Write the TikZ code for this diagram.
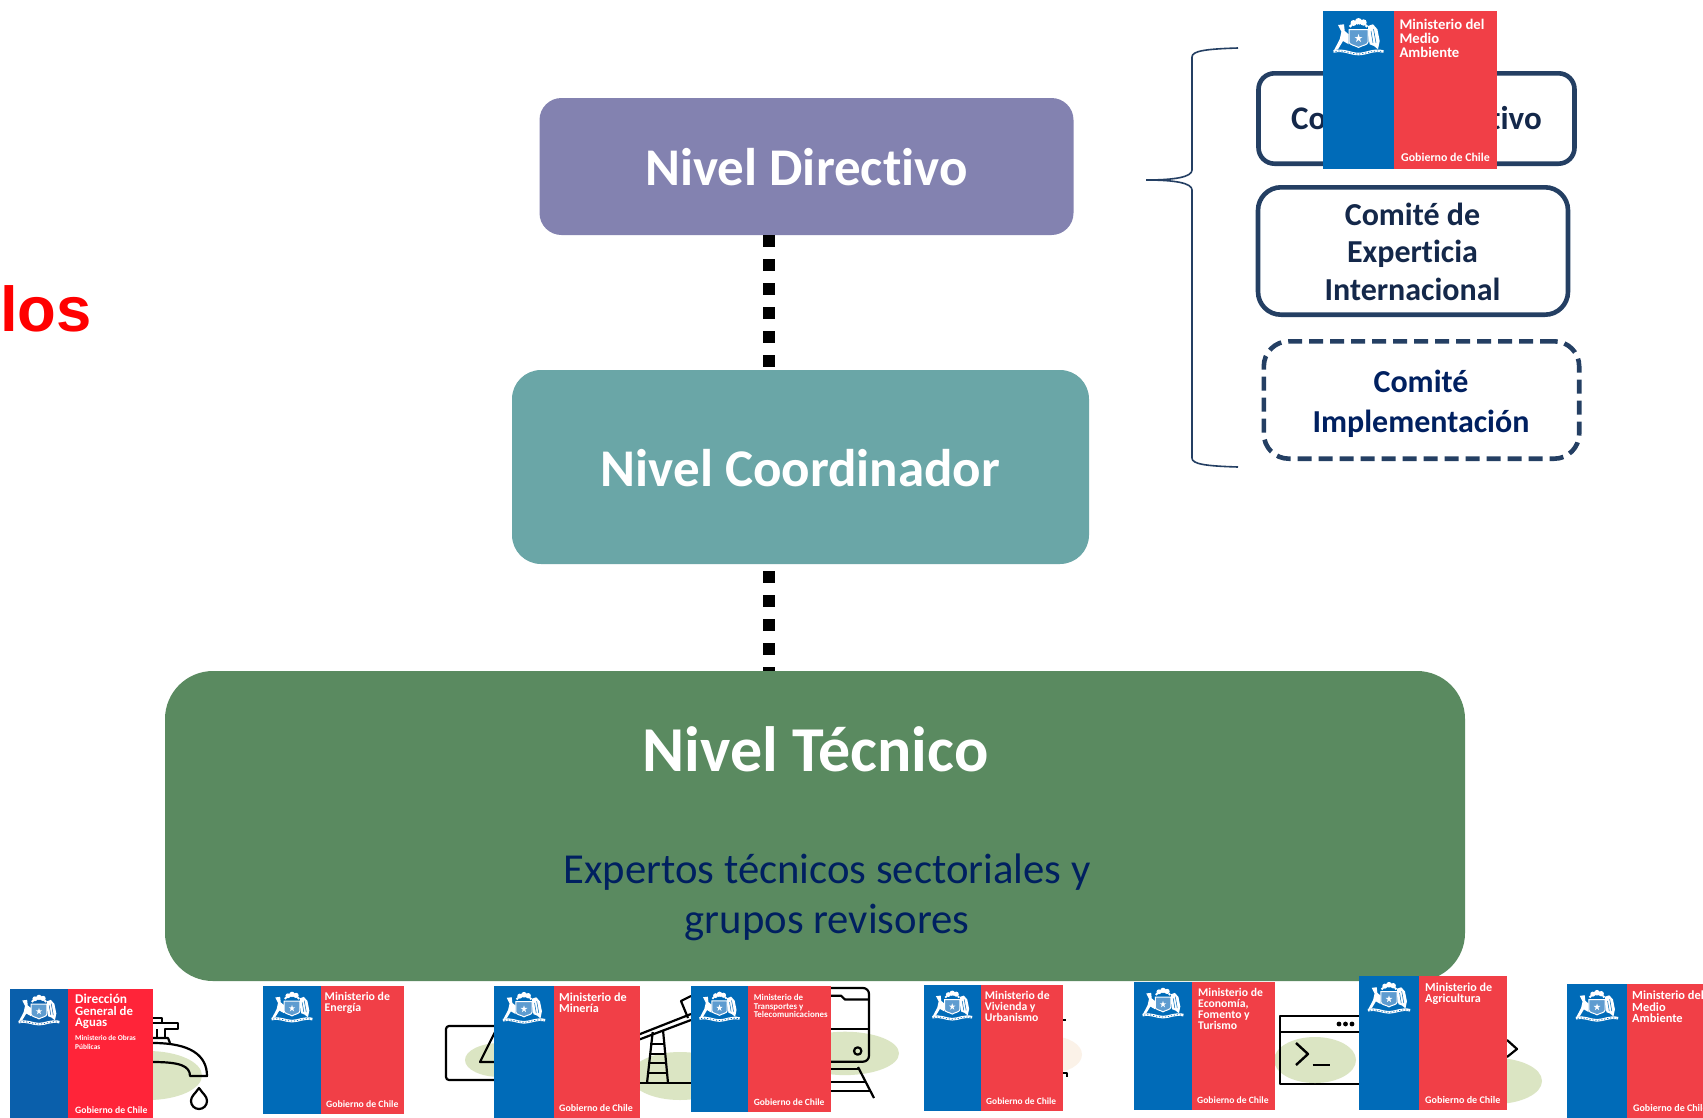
\documentclass[tikz,border=0pt]{standalone}
\usepackage{fontspec}
\setmainfont[RawFeature={-liga;-clig;-dlig}]{Carlito}
\newfontfamily\arialf{Liberation Sans}
\definecolor{dirc}{HTML}{8382B0}
\definecolor{cooc}{HTML}{6AA6A7}
\definecolor{tecc}{HTML}{5A8A60}
\definecolor{navy}{HTML}{002060}
\definecolor{edgec}{HTML}{243F63}
\definecolor{inkc}{HTML}{14284A}
\definecolor{blueg}{HTML}{006BB8}
\definecolor{redg}{HTML}{F13F47}
\definecolor{redd}{HTML}{FF2439}
\definecolor{blued}{HTML}{0A5FAB}
\definecolor{leaf}{HTML}{DBE5C3}
\definecolor{peach}{HTML}{FBF2E8}
\definecolor{shieldc}{HTML}{5E9CD0}
\tikzset{
  lvl/.style={inner sep=0pt,text=white,font=\bfseries},
  cbox/.style={draw=edgec,line width=4.6pt,fill=white,inner sep=0pt},
  ctext/.style={font=\bfseries\fontsize{32}{37.5}\selectfont,align=center,anchor=base,inner sep=0pt,text=inkc},
  dots/.style={line width=12.6pt,dash pattern=on 12pt off 12pt},
  icon/.style={draw=black,line width=2.2pt,line join=round},
  ltext/.style={anchor=base west,inner sep=0pt,text=white,font=\bfseries},
}
% name, x0, x1, split, y0, y1, blue, red
\newcommand{\govlogo}[8]{%
  \fill[#7] (#2,#5) rectangle (#4,#6);
  \fill[#8] (#4,#5) rectangle (#3,#6);
  \pgfmathsetmacro{\ccx}{(#2+#4)/2}
  \pgfmathsetmacro{\ccs}{(#4-#2)/71}
  \pgfmathsetmacro{\cct}{#5+7*\ccs}
  \begin{scope}[shift={(\ccx,\cct)},scale=\ccs]
    % plume
    \fill[white] (0,3.5) circle (3.5) (-5,5) circle (3) (5,4.5) circle (3.2) (-8,8) circle (1.6) (8,8) circle (1.6);
    \fill[#7] (0,7.5) circle (1.4);
    % huemul
    \fill[white] (-20.5,7)--(-14.5,6.3)--(-13.8,13)--(-9.8,16.3)--(-9.8,26.3)--(-15.5,23)--(-20.5,31.3)--(-24.5,32.3)--(-18.8,21.3)--(-17.1,13.7)--cycle;
    % condor
    \fill[white] (9.5,8)--(14.5,6.3)--(18.9,11.3)--(21.2,23)--(19.5,31.3)--(15.5,28)--(11.2,26.3)--(9.5,16.3)--cycle;
    \draw[#7,line width=.5pt] (15,11) -- (17.5,25) (12.5,13) -- (14.5,25);
    % shield
    \draw[white,line width=1pt,fill=shieldc] (-9.5,11.5)--(9.5,11.5)--(9.5,24)..controls (9.5,27) and (3,27.5) .. (0,29.5) .. controls (-3,27.5) and (-9.5,27) .. (-9.5,24)--cycle;
    \fill[white] (0,16) -- (1,19) -- (4,19) -- (1.5,20.8) -- (2.5,24) -- (0,22) -- (-2.5,24) -- (-1.5,20.8) -- (-4,19) -- (-1,19) -- cycle;
    % ribbon
    \draw[white,line width=2.6pt] (-25,33.5) .. controls (-15,31) and (-8,36) .. (0,36) .. controls (8,36) and (15,31) .. (25,33.5);
    \draw[#7,line width=.7pt,dash pattern=on 1.2pt off 1.8pt] (-23,33.5) .. controls (-15,31.5) and (-8,36) .. (0,36) .. controls (8,36) and (15,31.5) .. (23,33.5);
  \end{scope}
}
% name, x, baseline, size, text
\newcommand{\ltx}[5]{\node[ltext] (#1) at (#2,#3) {\fontsize{#4}{#4}\selectfont #5};}
\begin{document}
\begin{tikzpicture}[x=1pt,y=-1pt]
\useasboundingbox (0,0) rectangle (1703,1117);
\clip (0,0) rectangle (1703,1117);
\fill[white] (0,0) rectangle (1703,1117);

\node[anchor=base west,inner sep=0pt,text=red] (los) at (0,331) {\arialf\bfseries\fontsize{63.4}{64}\selectfont los};

% levels
\node[lvl,fill=dirc,rounded corners=22pt,minimum width=534pt,minimum height=137pt,
  text height=38.5pt,text depth=0pt,font=\bfseries\fontsize{53}{53}\selectfont] (dir) at (806.5,166.5) {Nivel Directivo};
\node[lvl,fill=cooc,rounded corners=29pt,minimum width=577pt,minimum height=194pt,
  text height=38pt,text depth=0pt,font=\bfseries\fontsize{53}{53}\selectfont] (coo) at (800.5,467) {Nivel Coordinador};
\node[lvl,fill=tecc,rounded corners=48pt,minimum width=1300pt,minimum height=310pt] (tec) at (815,826) {};
\node[anchor=base,inner sep=0pt,text=white,font=\bfseries\fontsize{64}{64}\selectfont] (tect) at (815.5,771) {Nivel Técnico};
\node[anchor=base,inner sep=0pt,text=navy,align=center,font=\fontsize{42.7}{50}\selectfont] (tecs) at (827,933) {Expertos técnicos sectoriales y\\grupos revisores};

\coordinate (cx) at (769,0);
\draw[dots] (dir.south -| cx) -- (coo.north -| cx);
\draw[dots,dash phase=17pt] (coo.south -| cx) -- (tec.north -| cx);

% committees
\node[cbox,rounded corners=16pt,minimum width=316pt,minimum height=90.4pt,text=inkc,
  text height=22pt,text depth=0pt,font=\bfseries\fontsize{33}{33}\selectfont] (c1) at (1416.5,118.5) {Comité\hspace{22pt} Directivo};
\node[cbox,rounded corners=23pt,minimum width=310pt,minimum height=127.4pt] (c2) at (1413,251) {};
\node[ctext] (c2t) at (1412.5,300) {Comité de\\Experticia\\Internacional};
\node[cbox,rounded corners=25pt,dash pattern=on 14pt off 7pt,minimum width=315.4pt,minimum height=117.4pt] (c3) at (1421.5,400) {};
\node[ctext,text=navy,font=\bfseries\fontsize{32}{40}\selectfont] (c3t) at (1421,432) {Comité\\Implementación};

% brace
\coordinate (bt) at (1238,48);
\coordinate (bm) at (1146,180);
\coordinate (bb) at (1238,467);
\draw[edgec,line width=1.6pt] (bt) .. controls (1205,49) and (1192,51) .. (1192,57)
  -- (1192,170) .. controls (1192,177) and (1175,180) .. (bm)
  .. controls (1175,180) and (1192,183) .. (1192,190)
  -- (1192,458) .. controls (1192,464) and (1205,466) .. (bb);

% icons behind the logos
\fill[leaf] (148,1075.5) ellipse (54 and 24.5);
\draw[icon] (153,1043) .. controls (190,1043) and (207,1055) .. (207,1076) -- (190,1076) .. controls (190,1066) and (180,1062) .. (153,1062);
\draw[icon] (153,1023) -- (178,1023) -- (178,1029) -- (165,1029) -- (165,1038);
\draw[icon] (153,1018) -- (162,1018) -- (162,1023);
\draw[icon] (157,1029) -- (157,1038);
\draw[icon] (153,1038) -- (168,1038) -- (170,1043);
\draw[icon] (199,1088) .. controls (203,1094) and (207,1096) .. (207,1101) arc (0:180:8) .. controls (191,1096) and (195,1094) .. (199,1088) -- cycle;

\fill[leaf] (500,1060) ellipse (35 and 17);
\draw[icon,rounded corners=3pt] (500,1026) -- (446,1026) -- (446,1080) -- (500,1080);
\draw[icon] (496,1030) -- (480,1062) -- (500,1062);

\fill[leaf] (680,1076) ellipse (50 and 24);
\draw[icon] (630,1038) -- (691,1014);
\draw[icon] (630,1043) -- (691,1020);
\draw[icon] (691,996) -- (681,1001) -- (688,1018);
\draw[icon] (630,1083) -- (691,1083);
\draw[icon] (647,1083) -- (652.7,1032) (668,1083) -- (663,1030);
\draw[icon] (650,1044) -- (665,1044) (649,1054) -- (666,1054) (648,1063) -- (667,1063) (647,1073) -- (668,1073);

\fill[leaf] (845,1053.4) ellipse (54 and 21.7);
\draw[icon,rounded corners=6pt] (820,988) -- (869,988) -- (869,1061.7) -- (820,1061.7);
\draw[icon] (825,1029.3) -- (868,1029.3);
\draw[icon] (825,995.7) -- (841,995.7) -- (845,999.5) -- (868,999.5);
\draw[icon] (857.7,1051) circle (3.7);
\draw[icon] (858,1067) -- (874,1098);
\draw[icon] (825,1069.3) -- (860,1069.3) (825,1081.7) -- (866,1081.7) (825,1091) -- (870,1091);

\fill[peach] (1050,1054.5) ellipse (32 and 18.5);
\draw[icon] (1060,1020) -- (1066,1020);
\draw[icon] (1060,1073) -- (1067,1073) -- (1067,1077);

\draw[icon,fill=white] (1280,1016) rectangle (1370,1084);
\draw[icon] (1280,1032) -- (1370,1032);
\fill[leaf] (1315,1060) ellipse (41 and 23);
\draw[icon] (1280,1034) -- (1280,1084);
\fill (1339,1024) circle (2.4) (1345.5,1024) circle (2.4) (1352,1024) circle (2.4);
\draw[icon,line width=2.4pt] (1296,1043) -- (1308,1054) -- (1296,1065);
\draw[icon,line width=2.4pt] (1312.5,1065) -- (1330,1065);

\fill[leaf] (1495,1081) ellipse (47 and 23);
\draw[icon] (1507,1040) -- (1517,1049) -- (1507,1057);

% logos
\govlogo{lg1}{10}{153}{68}{989}{1125}{blued}{redd}
\ltx{lg1a}{75}{1003.3}{13.4}{Dirección}
\ltx{lg1b}{75}{1015}{12.8}{General de}
\ltx{lg1c}{75}{1026.7}{12.8}{Aguas}
\ltx{lg1d}{75}{1040}{7.4}{Ministerio de Obras}
\ltx{lg1e}{75}{1049}{7.4}{Públicas}
\ltx{lg1f}{75}{1113}{9.7}{Gobierno de Chile}

\govlogo{lg2}{263}{404}{321}{986}{1114}{blueg}{redg}
\ltx{lg2a}{324.5}{1000.7}{11.8}{Ministerio de}
\ltx{lg2b}{324.5}{1011.7}{11.8}{Energía}
\ltx{lg2f}{326}{1107.7}{9.7}{Gobierno de Chile}

\govlogo{lg3}{494}{640}{554}{986}{1125}{blueg}{redg}
\ltx{lg3a}{559}{1001}{12.2}{Ministerio de}
\ltx{lg3b}{559}{1012}{12.2}{Minería}
\ltx{lg3f}{559}{1111.7}{9.9}{Gobierno de Chile}

\govlogo{lg4}{691}{831}{748}{986}{1112}{blueg}{redg}
\ltx{lg4a}{753.6}{1000.7}{8.9}{Ministerio de}
\ltx{lg4b}{753.6}{1009}{8.9}{Transportes y}
\ltx{lg4c}{753.6}{1017}{8.9}{Telecomunicaciones}
\ltx{lg4f}{753.6}{1105.7}{9.5}{Gobierno de Chile}

\govlogo{lg5}{924}{1063}{980.5}{985}{1111}{blueg}{redg}
\ltx{lg5a}{984.7}{999.3}{11.7}{Ministerio de}
\ltx{lg5b}{984.7}{1010.7}{11.7}{Vivienda y}
\ltx{lg5c}{984.7}{1021.7}{11.7}{Urbanismo}
\ltx{lg5f}{986}{1104.7}{9.4}{Gobierno de Chile}

\govlogo{lg6}{1134}{1275}{1192}{982}{1110}{blueg}{redg}
\ltx{lg6a}{1198}{996}{11.7}{Ministerio de}
\ltx{lg6b}{1198}{1007}{11.7}{Economía,}
\ltx{lg6c}{1198}{1018}{11.7}{Fomento y}
\ltx{lg6d}{1198}{1029}{11.7}{Turismo}
\ltx{lg6f}{1197}{1103.7}{9.6}{Gobierno de Chile}

\govlogo{lg7}{1359}{1507}{1419}{976}{1110}{blueg}{redg}
\ltx{lg7a}{1425}{991.7}{12.1}{Ministerio de}
\ltx{lg7b}{1425}{1002.7}{12.1}{Agricultura}
\ltx{lg7f}{1425}{1103.7}{10.1}{Gobierno de Chile}

\govlogo{lg8}{1567}{1713}{1627}{984}{1125}{blueg}{redg}
\ltx{lg8a}{1632}{999}{12.4}{Ministerio del}
\ltx{lg8b}{1632}{1011}{12.4}{Medio}
\ltx{lg8c}{1632}{1022.7}{12.4}{Ambiente}
\ltx{lg8f}{1633}{1111.7}{10}{Gobierno de Chile}

\govlogo{lg9}{1323}{1497}{1394}{11}{169}{blueg}{redg}
\ltx{lg9a}{1399.3}{29}{14.7}{Ministerio del}
\ltx{lg9b}{1399.3}{43}{14.7}{Medio}
\ltx{lg9c}{1399.3}{57}{14.7}{Ambiente}
\ltx{lg9f}{1401}{161}{11.9}{Gobierno de Chile}
\end{tikzpicture}
\end{document}
